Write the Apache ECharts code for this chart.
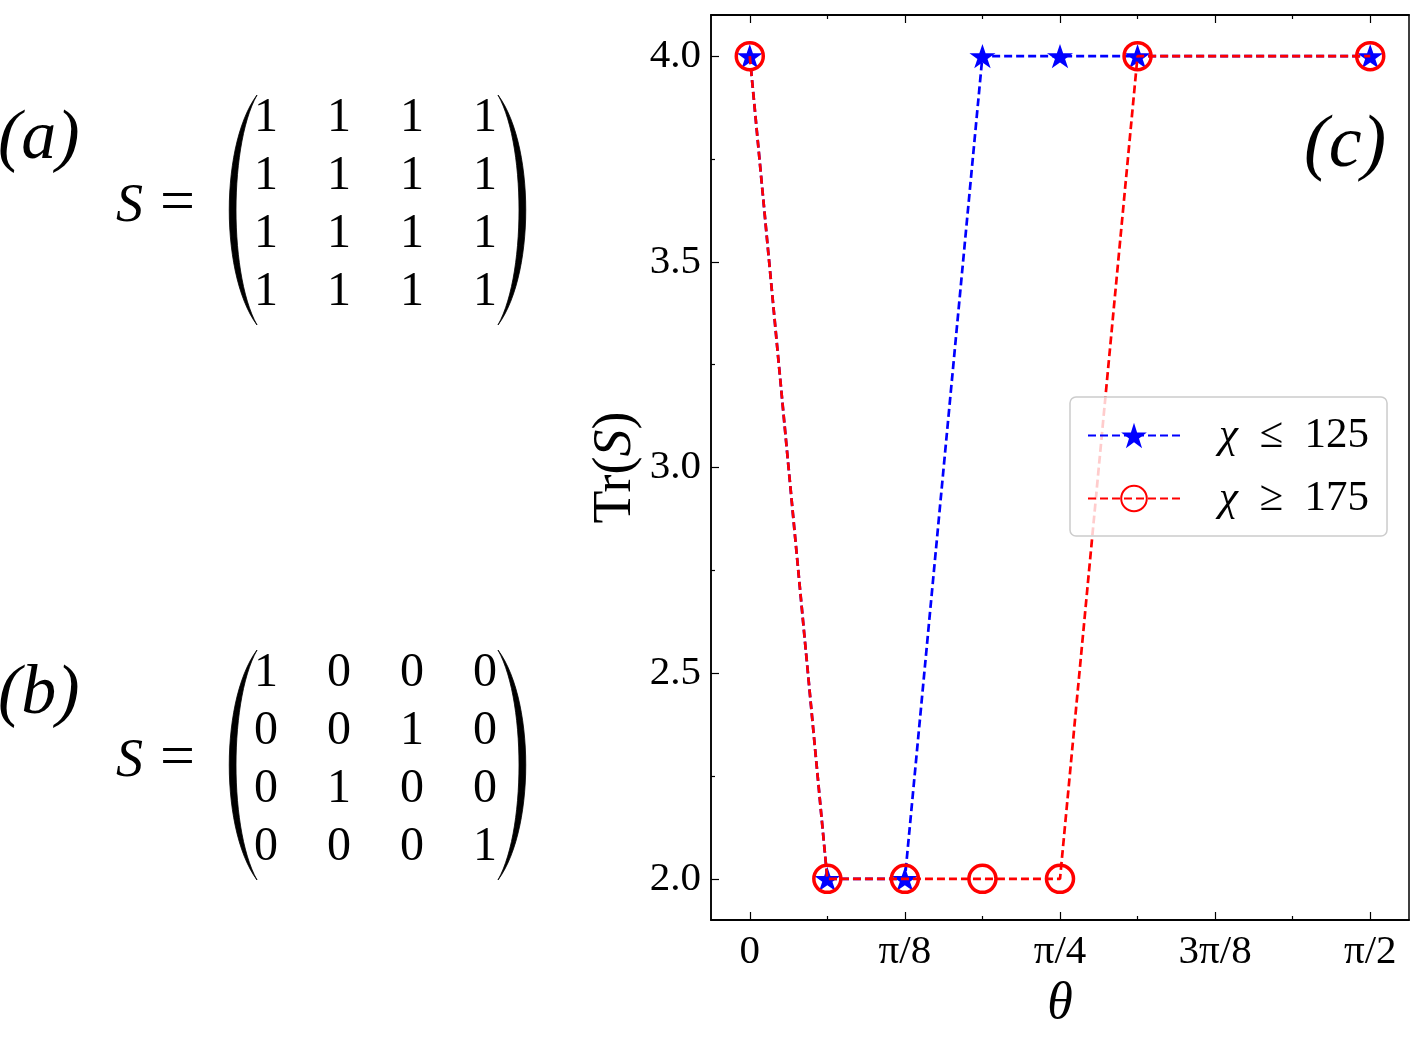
<!DOCTYPE html>
<html>
<head>
<meta charset="utf-8">
<script src="https://cdn.jsdelivr.net/npm/echarts@6/dist/echarts.min.js"></script>
<style>
  html, body { margin: 0; padding: 0; background: #fff; }
  #main { width: 1425px; height: 1046px; }
</style>
</head>
<body>
<div id="main"></div>
<script>
// theta in units of pi/16
var thetaSteps = [0, 1, 2, 3, 4, 5, 8];
var trLowChi = [4, 2, 2, 4, 4, 4, 4];   // chi <= 125
var trHighChi = [4, 2, 2, 2, 2, 4, 4];  // chi >= 175
var xTickValues = [0, 2, 4, 6, 8];
var xTickLabels = ['0', 'π/8', 'π/4', '3π/8', 'π/2'];
var xMinorValues = [1, 3, 5, 7];
var yTickValues = [2, 2.5, 3, 3.5, 4];
var yMinorValues = [2.25, 2.75, 3.25, 3.75];
var matrixA = [[1, 1, 1, 1], [1, 1, 1, 1], [1, 1, 1, 1], [1, 1, 1, 1]];
var matrixB = [[1, 0, 0, 0], [0, 0, 1, 0], [0, 1, 0, 0], [0, 0, 0, 1]];

var FONT = 'Liberation Serif';
var STAR = 'path://M50,0 L61.8,35.1 L98.9,35.1 L69.1,56.7 L80.9,91.9 L50,70 L19.1,91.9 L30.9,56.7 L1.1,35.1 L38.2,35.1 Z';

function pairs(xs, ys) {
    return xs.map(function (x, i) { return [x, ys[i]]; });
}

// big paren as a filled crescent (two cubic curves sampled)
function parenPoints(xEnd, xOuter, xInner, top, bot) {
    var pts = [], n = 30, i, t, u;
    for (i = 0; i <= n; i++) {
        t = i / n; u = 1 - t;
        pts.push([u * u * u * xEnd + 3 * u * u * t * xOuter + 3 * u * t * t * xOuter + t * t * t * xEnd,
                  u * u * u * top + 3 * u * u * t * (top + 50) + 3 * u * t * t * (bot - 50) + t * t * t * bot]);
    }
    for (i = n; i >= 0; i--) {
        t = i / n; u = 1 - t;
        pts.push([u * u * u * xEnd + 3 * u * u * t * xInner + 3 * u * t * t * xInner + t * t * t * xEnd,
                  u * u * u * top + 3 * u * u * t * (top + 50) + 3 * u * t * t * (bot - 50) + t * t * t * bot]);
    }
    return pts;
}

function matrixGraphics(mat, label, topY) {
    var els = [];
    var rowY0 = topY + 23, rowStep = 58, colX0 = 266, colStep = 73;
    var midY = rowY0 + rowStep * 1.5;
    mat.forEach(function (row, r) {
        row.forEach(function (v, c) {
            els.push({
                type: 'text', x: colX0 + c * colStep, y: rowY0 + r * rowStep,
                style: { text: String(v), font: '48px "' + FONT + '"', fill: '#000', align: 'center', verticalAlign: 'middle' }
            });
        });
    });
    var t = topY, b = topY + 230;
    els.push({
        type: 'polygon', shape: { points: parenPoints(257, 220, 229, t, b) },
        style: { fill: '#000', stroke: '#000', lineWidth: 0.8 }
    });
    els.push({
        type: 'polygon', shape: { points: parenPoints(498, 535, 526, t, b) },
        style: { fill: '#000', stroke: '#000', lineWidth: 0.8 }
    });
    els.push({
        type: 'text', x: 116, y: midY + 2,
        style: { text: 'S', font: 'italic 54px "' + FONT + '"', fill: '#000', verticalAlign: 'middle' }
    });
    els.push({
        type: 'text', x: 160, y: midY,
        style: { text: '=', font: '62px "' + FONT + '"', fill: '#000', verticalAlign: 'middle' }
    });
    els.push({
        type: 'text', x: -2, y: midY - 65,
        style: { text: '(' + label + ')', font: 'italic 70px "' + FONT + '"', fill: '#000', verticalAlign: 'middle' }
    });
    return els;
}

var chart = echarts.init(document.getElementById('main'));

function xAxisDef(pos, values, len, labels) {
    return {
        type: 'value', position: pos, min: -0.5, max: 8.5,
        axisLine: { show: true, onZero: false, lineStyle: { color: '#000', width: 1.5 } },
        axisTick: { show: true, inside: true, length: len, customValues: values, lineStyle: { color: '#000', width: 1.2 } },
        axisLabel: labels ? {
            show: true, customValues: values, margin: 12,
            formatter: function (v) { return xTickLabels[xTickValues.indexOf(Math.round(v))]; },
            color: '#000', fontFamily: FONT, fontSize: 41
        } : { show: false },
        splitLine: { show: false }
    };
}

var option = {
    backgroundColor: '#fff',
    animation: false,
    grid: { left: 711, top: 15, right: 16, bottom: 126, show: true, borderColor: '#000', borderWidth: 1.5, backgroundColor: 'transparent' },
    xAxis: [
        Object.assign(xAxisDef('bottom', xTickValues, 8, true), {
            name: 'θ', nameLocation: 'middle', nameGap: 52,
            nameTextStyle: { color: '#000', fontFamily: FONT, fontStyle: 'italic', fontSize: 52 }
        }),
        xAxisDef('bottom', xMinorValues, 4, false),
        xAxisDef('top', xTickValues, 8, false),
        xAxisDef('top', xMinorValues, 4, false)
    ],
    yAxis: [
        {
            type: 'value', min: 1.9, max: 4.1, position: 'left',
            name: '{r|Tr(}{i|S}{r|)}', nameLocation: 'middle', nameGap: 68, nameRotate: 90,
            nameTextStyle: {
                rich: {
                    r: { fontFamily: FONT, fontSize: 54, color: '#000' },
                    i: { fontFamily: FONT, fontSize: 54, fontStyle: 'italic', color: '#000' }
                }
            },
            axisLine: { show: true, onZero: false, lineStyle: { color: '#000', width: 1.5 } },
            axisTick: { show: true, inside: true, length: 8, customValues: yTickValues, lineStyle: { color: '#000', width: 1.2 } },
            axisLabel: {
                show: true, customValues: yTickValues, margin: 10,
                formatter: function (v) { return v.toFixed(1); },
                color: '#000', fontFamily: FONT, fontSize: 41
            },
            splitLine: { show: false }
        },
        {
            type: 'value', min: 1.9, max: 4.1, position: 'left',
            axisLine: { show: false, onZero: false },
            axisTick: { show: true, inside: true, length: 4, customValues: yMinorValues, lineStyle: { color: '#000', width: 1.2 } },
            axisLabel: { show: false },
            splitLine: { show: false }
        }
    ],
    legend: {
        orient: 'vertical', left: 1070, top: 397,
        padding: [17, 18, 16, 17],
        itemWidth: 92, itemHeight: 32, itemGap: 20,
        backgroundColor: 'rgba(255,255,255,0.8)', borderColor: '#cccccc', borderWidth: 1.5, borderRadius: 6,
        formatter: function (name) {
            return '{i|χ}\u2002' + name.replace(' ', '\u2002');
        },
        textStyle: {
            color: '#000', fontFamily: FONT, fontSize: 43, padding: [0, 0, 0, 34],
            rich: {
                i: { fontFamily: FONT, fontStyle: 'italic', fontSize: 43, color: '#000' }
            }
        },
        data: ['≤ 125', '≥ 175']
    },
    series: [
        {
            name: '≤ 125', type: 'line', data: pairs(thetaSteps, trLowChi),
            symbol: STAR, symbolSize: 26, symbolKeepAspect: true,
            itemStyle: { color: '#0000ff' },
            lineStyle: { color: '#0000ff', width: 2.7, type: [8, 4] },
            z: 2
        },
        {
            name: '≥ 175', type: 'line', data: pairs(thetaSteps, trHighChi),
            symbol: 'circle', symbolSize: 27,
            itemStyle: { color: 'rgba(255,0,0,0)', borderColor: '#ff0000', borderWidth: 3.5 },
            lineStyle: { color: '#ff0000', width: 2.7, type: [8, 4] },
            z: 3
        }
    ],
    graphic: matrixGraphics(matrixA, 'a', 95).concat(matrixGraphics(matrixB, 'b', 650)).concat([
        {
            type: 'text', x: 1304, y: 147,
            style: { text: '(c)', font: 'italic 74px "' + FONT + '"', fill: '#000', verticalAlign: 'middle' }
        }
    ])
};

chart.setOption(option);
</script>
</body>
</html>
